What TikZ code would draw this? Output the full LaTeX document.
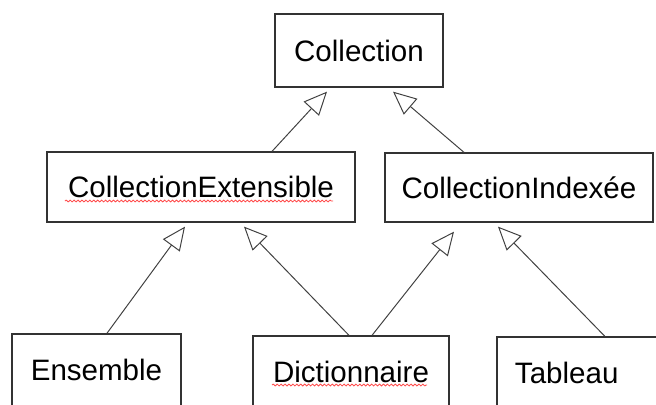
\documentclass[tikz,border=0pt]{standalone}
\usepackage{fontspec}
\setmainfont{Liberation Sans}
\usetikzlibrary{arrows.meta}
\usetikzlibrary{decorations.pathmorphing}
\tikzset{classbox/.style={draw=black!80, line width=0.9pt, fill=white, inner sep=0pt, font=\fontsize{21pt}{25pt}\selectfont}}
\tikzset{inherits/.style={-{Triangle[open, length=0.58cm, width=0.52cm]}, draw=black!75, line width=0.7pt}}
\tikzset{spell/.style={draw=red!70, line width=0.6pt, decorate, decoration={snake, amplitude=0.65pt, segment length=2.8pt}}}

\begin{document}
\begin{tikzpicture}[x=0.025cm, y=-0.025cm]
				\useasboundingbox (0,0) rectangle (656,404);
				\clip (0,0) rectangle (656,404);
				\node[classbox, minimum width=4.2cm, minimum height=1.825cm] (coll) at (359,50.5) {Collection};
				\node[classbox, minimum width=7.7cm, minimum height=1.75cm] (ext) at (201,187) {CollectionExtensible};
				\node[classbox, minimum width=6.7cm, minimum height=1.725cm] (idx) at (519,187.5) {CollectionIndexée};
				\node[classbox, minimum width=4.225cm, minimum height=1.8cm] (ens) at (96.5,370) {Ensemble};
				\node[classbox, minimum width=4.9cm, minimum height=1.8cm] (dict) at (351,372) {Dictionnaire};
				\node[classbox, inner xsep=0.45cm, text width=3.675cm, align=left, minimum height=1.8cm] (tab) at (588.5,373) {Tableau};
				\draw[inherits] ([xshift=1.775cm]ext.north) -- ([xshift=-0.8cm, yshift=-0.1cm]coll.south);
				\draw[inherits] ([xshift=-1.375cm]idx.north) -- ([xshift=0.85cm, yshift=-0.1cm]coll.south);
				\draw[inherits] ([xshift=0.26cm]ens.north) -- ([xshift=-0.4cm, yshift=-0.1cm]ext.south);
				\draw[inherits] ([xshift=-0.05cm]dict.north) -- ([xshift=1.075cm, yshift=-0.1cm]ext.south);
				\draw[inherits] ([xshift=0.525cm]dict.north) -- ([xshift=-1.625cm, yshift=-0.225cm]idx.south);
				\draw[inherits] ([xshift=0.41cm]tab.north) -- ([xshift=-0.525cm, yshift=-0.1cm]idx.south);
				\draw[spell] (65,201) -- (333,201);
				\draw[spell] (272,385) -- (427,385);
\end{tikzpicture}
\end{document}
